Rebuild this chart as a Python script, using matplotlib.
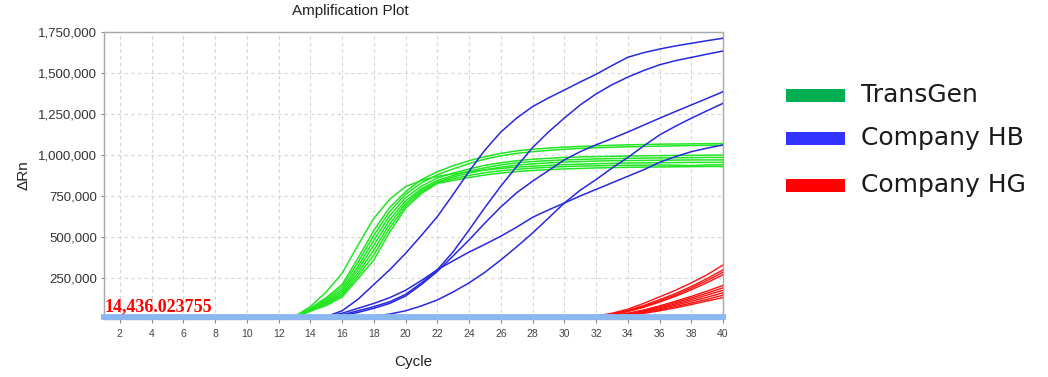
import matplotlib
matplotlib.use("Agg")
import matplotlib.pyplot as plt
from matplotlib.patches import Rectangle
from matplotlib.ticker import FuncFormatter, MultipleLocator

# ---------------- data (values in thousands of ΔRn) ----------------
green_cycles = list(range(12, 41))
transgen = [
    [2, 15, 75, 165, 278, 450, 614, 730, 807, 845, 870, 885, 897, 908, 918, 926, 932, 937, 941, 944, 947, 949, 951, 952, 953, 954, 955, 955, 955],
    [2, 12, 65, 130, 210, 370, 540, 680, 776, 850, 898, 935, 965, 990, 1010, 1025, 1035, 1042, 1048, 1052, 1056, 1059, 1062, 1064, 1066, 1067, 1068, 1069, 1070],
    [2, 11, 60, 120, 195, 345, 510, 655, 760, 830, 880, 915, 948, 975, 995, 1010, 1020, 1028, 1035, 1040, 1044, 1047, 1050, 1052, 1054, 1056, 1058, 1059, 1060],
    [2, 10, 58, 110, 180, 320, 480, 630, 740, 810, 860, 890, 915, 937, 953, 965, 974, 980, 985, 988, 990, 992, 994, 995, 996, 997, 998, 999, 1000],
    [1, 9, 55, 102, 168, 300, 450, 605, 720, 795, 845, 875, 902, 922, 940, 952, 960, 966, 970, 973, 976, 978, 980, 981, 982, 983, 984, 985, 985],
    [1, 8, 52, 95, 155, 280, 420, 580, 705, 785, 835, 866, 890, 910, 926, 938, 946, 952, 957, 960, 963, 965, 966, 967, 968, 969, 970, 970, 970],
    [1, 8, 50, 88, 145, 262, 390, 555, 690, 775, 830, 855, 876, 892, 904, 913, 920, 925, 929, 932, 934, 936, 937, 938, 939, 938, 935, 940, 940],
    [1, 7, 48, 82, 134, 245, 360, 530, 675, 765, 827, 845, 863, 878, 890, 899, 906, 911, 915, 918, 921, 923, 925, 926, 927, 928, 929, 930, 930],
]

blue_cycles = list(range(13, 41))
company_hb = [
    [0, 5, 15, 50, 120, 210, 300, 400, 510, 624, 760, 900, 1030, 1140, 1225, 1295, 1348, 1396, 1445, 1492, 1545, 1596, 1624, 1646, 1665, 1681, 1697, 1712],
    [0, 3, 10, 25, 50, 75, 105, 150, 220, 300, 410, 543, 680, 810, 930, 1045, 1140, 1225, 1305, 1372, 1428, 1475, 1515, 1550, 1575, 1595, 1615, 1634],
    [0, 2, 8, 20, 40, 65, 95, 140, 210, 290, 385, 482, 585, 683, 770, 840, 905, 970, 1020, 1062, 1100, 1140, 1182, 1224, 1265, 1305, 1345, 1386],
    [0, 0, 2, 5, 10, 18, 30, 50, 80, 116, 165, 220, 285, 360, 440, 524, 615, 707, 785, 850, 920, 985, 1055, 1122, 1175, 1224, 1270, 1315],
    [0, 5, 15, 35, 65, 95, 130, 175, 235, 300, 355, 408, 455, 505, 560, 620, 665, 707, 750, 790, 830, 870, 910, 955, 990, 1020, 1042, 1061],
]

red_cycles = list(range(30, 41))
company_hg = [
    [2, 8, 18, 35, 60, 95, 135, 175, 220, 270, 329],
    [1, 6, 15, 30, 52, 82, 118, 155, 198, 247, 300],
    [1, 5, 13, 27, 48, 76, 110, 146, 188, 235, 285],
    [1, 5, 12, 25, 45, 71, 103, 138, 178, 222, 270],
    [1, 4, 10, 20, 35, 55, 80, 108, 138, 170, 205],
    [1, 4, 9, 18, 32, 51, 74, 100, 128, 158, 190],
    [1, 3, 8, 17, 30, 47, 68, 92, 118, 146, 175],
    [1, 3, 7, 15, 27, 43, 62, 84, 108, 133, 160],
    [0, 2, 6, 13, 24, 38, 56, 76, 97, 120, 145],
    [0, 2, 5, 11, 21, 34, 50, 68, 88, 110, 130],
]

threshold = 14436.023755
legend_labels = ["TransGen", "Company HB", "Company HG"]
legend_colors = ["#00B050", "#3333FF", "#FF0000"]

# ---------------- figure ----------------
fig = plt.figure(figsize=(10.48, 3.77), dpi=100)
ax = fig.add_axes([104 / 1048, 1 - 319 / 377, (723 - 104) / 1048, (319 - 32) / 377])

narrow = ["Liberation Sans Narrow", "Liberation Sans", "DejaVu Sans"]

for ys in transgen:
    ax.plot(green_cycles, [v * 1000 for v in ys], color="#22E622", lw=1.1, zorder=3)
for ys in company_hb:
    ax.plot(blue_cycles, [v * 1000 for v in ys], color="#2828E0", lw=1.1, zorder=3)
for ys in company_hg:
    ax.plot(red_cycles, [v * 1000 for v in ys], color="#FF1010", lw=1.0, zorder=3)

ax.axhline(threshold, color="#8AB8F2", lw=4.2, zorder=4, clip_on=False)
ax.text(1.05, threshold + 8000, "14,436.023755", color="#FF0000", fontsize=13,
        fontweight="bold", family=["Liberation Serif", "DejaVu Serif"],
        ha="left", va="bottom", zorder=5)

ax.set_xlim(1, 40)
ax.set_ylim(0, 1750000)
ax.xaxis.set_major_locator(MultipleLocator(2))
ax.set_yticks([250000, 500000, 750000, 1000000, 1250000, 1500000, 1750000])
ax.yaxis.set_major_formatter(FuncFormatter(lambda v, p: f"{int(v):,}"))
ax.grid(True, color="#D4D4D4", lw=0.8, ls=(0, (3, 3)))
ax.set_axisbelow(True)

for s in ["left", "top", "right", "bottom"]:
    ax.spines[s].set_color("#A8A8A8")
    ax.spines[s].set_linewidth(1.0)

ax.tick_params(axis="x", length=3, color="#888888", labelsize=7.5, labelcolor="#444444", pad=4)
ax.tick_params(axis="y", length=2, color="#888888", labelsize=9.5, labelcolor="#333333", pad=3)
for lab in ax.get_xticklabels():
    lab.set_family(narrow)
for lab in ax.get_yticklabels():
    lab.set_family(narrow)

fig.text(350 / 1048, 1 - 11 / 377, "Amplification Plot", ha="center", va="center",
         fontsize=11, color="#222222", family=narrow)
fig.text(413 / 1048, 1 - 362 / 377, "Cycle", ha="center", va="center",
         fontsize=11, color="#222222", family=narrow)
fig.text(23 / 1048, 1 - 175 / 377, "ΔRn", ha="center", va="center", rotation=90,
         fontsize=11, color="#222222", family=["Liberation Sans", "DejaVu Sans"])

# legend
centers = [95.5, 138, 185]
for lab, col, cy in zip(legend_labels, legend_colors, centers):
    fig.patches.append(Rectangle((786 / 1048, 1 - (cy + 6.5) / 377), 59 / 1048, 13 / 377,
                                 transform=fig.transFigure, facecolor=col, edgecolor="none"))
    fig.text(861 / 1048, 1 - cy / 377, lab, ha="left", va="center", fontsize=18,
             color="#1a1a1a", family=["DejaVu Sans"])

fig.savefig("out.png", dpi=100)
